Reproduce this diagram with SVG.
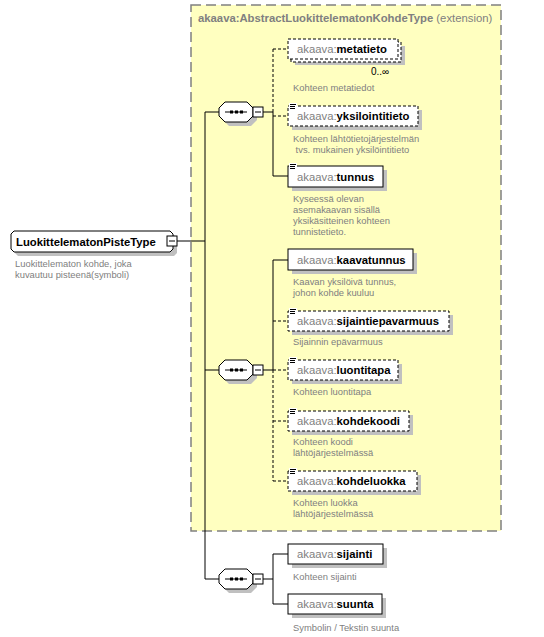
<svg xmlns="http://www.w3.org/2000/svg" width="544" height="637" viewBox="0 0 544 637">
<defs>
<style>
.ext{fill:#ffffc0;stroke:#808080;stroke-width:1.5;stroke-dasharray:10,5}
.title{font-family:"Liberation Sans",Arial,sans-serif;font-size:11.3px;fill:#808080}
.box{fill:#fff;stroke:#000;stroke-width:1}
.opt{fill:#fff;stroke:#000;stroke-width:1;stroke-dasharray:3,2}
.sh{fill:#c0c0c0;stroke:none}
.lbl{font-family:"Liberation Sans",Arial,sans-serif;font-size:11.3px}
.pfx{fill:#808080}
.nm{fill:#000;font-weight:bold}
.desc{font-family:"Liberation Sans",Arial,sans-serif;font-size:9.4px;fill:#808080}
.ln{fill:none;stroke:#000;stroke-width:1}
.dl{fill:none;stroke:#000;stroke-width:1;stroke-dasharray:3,2}
.card{font-family:"Liberation Sans",Arial,sans-serif;font-size:10px;fill:#000}
</style>
<g id="seqshape">
<polygon class="sh" points="10,4 32,4 38,10 38,18 32,24 10,24 4,18 4,10"/>
<polygon class="box" points="6,0 28,0 34,6 34,14 28,20 6,20 0,14 0,6"/>
<line class="ln" x1="6" y1="10" x2="28" y2="10"/>
<rect x="11" y="8.5" width="3" height="3" fill="#000"/>
<rect x="16" y="8.5" width="3" height="3" fill="#000"/>
<rect x="21" y="8.5" width="3" height="3" fill="#000"/>
<rect class="box" x="34" y="5" width="10" height="10"/>
<line class="ln" x1="36" y1="10" x2="42" y2="10"/>
</g>
<g id="doc">
<rect x="0" y="0" width="8" height="7" fill="#fff"/>
<line class="ln" x1="1" y1="1.5" x2="7" y2="1.5"/>
<line class="ln" x1="1" y1="3.5" x2="6" y2="3.5"/>
<line class="ln" x1="1" y1="5.5" x2="6" y2="5.5"/>
</g>
</defs>
<rect width="544" height="637" fill="#fff"/>

<g id="extension">
<rect class="ext" x="191" y="5" width="310" height="526"/>
<text class="title" x="198" y="22"><tspan font-weight="bold">akaava:AbstractLuokittelematonKohdeType</tspan> (extension)</text>
</g>

<g id="connectors">
<line class="ln" x1="177" y1="241" x2="205" y2="241"/>
<line class="ln" x1="205" y1="112" x2="205" y2="579"/>
<line class="ln" x1="205" y1="112" x2="219" y2="112"/>
<line class="ln" x1="205" y1="370" x2="219" y2="370"/>
<line class="ln" x1="205" y1="579" x2="219" y2="579"/>
<line class="ln" x1="263" y1="112" x2="273" y2="112"/>
<line class="dl" x1="273" y1="49" x2="273" y2="112"/>
<line class="ln" x1="273" y1="112" x2="273" y2="176"/>
<line class="dl" x1="273" y1="49" x2="288" y2="49"/>
<line class="dl" x1="273" y1="116" x2="288" y2="116"/>
<line class="ln" x1="273" y1="176" x2="288" y2="176"/>
<line class="ln" x1="263" y1="370" x2="273" y2="370"/>
<line class="ln" x1="273" y1="260" x2="273" y2="370"/>
<line class="dl" x1="273" y1="370" x2="273" y2="481"/>
<line class="ln" x1="273" y1="260" x2="288" y2="260"/>
<line class="dl" x1="273" y1="321" x2="288" y2="321"/>
<line class="dl" x1="273" y1="370" x2="288" y2="370"/>
<line class="dl" x1="273" y1="421" x2="288" y2="421"/>
<line class="dl" x1="273" y1="481" x2="288" y2="481"/>
<line class="ln" x1="263" y1="579" x2="273" y2="579"/>
<line class="ln" x1="273" y1="554" x2="273" y2="604"/>
<line class="ln" x1="273" y1="554" x2="288" y2="554"/>
<line class="ln" x1="273" y1="604" x2="288" y2="604"/>
</g>

<g id="root">
<polygon class="sh" points="18,235 174,235 177,238 177,253 174,256 18,256 15,253 15,238"/>
<polygon class="box" points="14,231 170,231 173,234 173,249 170,252 14,252 11,249 11,234"/>
<text class="lbl nm" x="16" y="246" font-size="12px">LuokittelematonPisteType</text>
<rect class="box" x="167" y="236" width="10" height="10"/>
<line class="ln" x1="169" y1="241" x2="175" y2="241"/>
<text class="desc" x="15" y="267">Luokittelematon kohde, joka</text>
<text class="desc" x="15" y="278">kuvautuu pisteenä(symboli)</text>
</g>

<g id="seq1"><use href="#seqshape" x="219" y="102"/></g>
<g id="seq2"><use href="#seqshape" x="219" y="360"/></g>
<g id="seq3"><use href="#seqshape" x="219" y="569"/></g>

<g id="metatieto">
<rect class="sh" x="295" y="46" width="110" height="19"/>
<rect class="opt" x="291" y="42" width="110" height="20"/>
<rect class="opt" x="288" y="39" width="110" height="20"/>
<text class="lbl" x="297" y="53"><tspan class="pfx">akaava:</tspan><tspan class="nm">metatieto</tspan></text>
<text class="card" x="371" y="75">0..∞</text>
<text class="desc" x="293" y="91">Kohteen metatiedot</text>
</g>

<g id="yksilointitieto">
<rect class="sh" x="292" y="110" width="130" height="20"/>
<rect class="opt" x="288" y="106" width="130" height="20"/>
<use href="#doc" x="289" y="103"/>
<text class="lbl" x="297" y="120"><tspan class="pfx">akaava:</tspan><tspan class="nm">yksilointitieto</tspan></text>
<text class="desc" x="293" y="142">Kohteen lähtötietojärjestelmän</text>
<text class="desc" x="293" y="153" xml:space="preserve"> tvs. mukainen yksilöintitieto</text>
</g>

<g id="tunnus">
<rect class="sh" x="292" y="170" width="95" height="21"/>
<rect class="box" x="288" y="166" width="95" height="21"/>
<use href="#doc" x="289" y="163"/>
<text class="lbl" x="297" y="181"><tspan class="pfx">akaava:</tspan><tspan class="nm">tunnus</tspan></text>
<text class="desc" x="293" y="202">Kyseessä olevan</text>
<text class="desc" x="293" y="213">asemakaavan sisällä</text>
<text class="desc" x="293" y="224">yksikäsitteinen kohteen</text>
<text class="desc" x="293" y="235">tunnistetieto.</text>
</g>

<g id="kaavatunnus">
<rect class="sh" x="292" y="253" width="125" height="21"/>
<rect class="box" x="288" y="249" width="125" height="21"/>
<text class="lbl" x="297" y="264"><tspan class="pfx">akaava:</tspan><tspan class="nm">kaavatunnus</tspan></text>
<text class="desc" x="293" y="285">Kaavan yksilöivä tunnus,</text>
<text class="desc" x="293" y="296">johon kohde kuuluu</text>
</g>

<g id="sijaintiepavarmuus">
<rect class="sh" x="292" y="315" width="161" height="20"/>
<rect class="opt" x="288" y="311" width="161" height="20"/>
<use href="#doc" x="289" y="308"/>
<text class="lbl" x="297" y="325"><tspan class="pfx">akaava:</tspan><tspan class="nm">sijaintiepavarmuus</tspan></text>
<text class="desc" x="293" y="345">Sijainnin epävarmuus</text>
</g>

<g id="luontitapa">
<rect class="sh" x="292" y="364" width="110" height="20"/>
<rect class="opt" x="288" y="360" width="110" height="20"/>
<use href="#doc" x="289" y="357"/>
<text class="lbl" x="297" y="374"><tspan class="pfx">akaava:</tspan><tspan class="nm">luontitapa</tspan></text>
<text class="desc" x="293" y="395">Kohteen luontitapa</text>
</g>

<g id="kohdekoodi">
<rect class="sh" x="292" y="415" width="121" height="20"/>
<rect class="opt" x="288" y="411" width="121" height="20"/>
<use href="#doc" x="289" y="408"/>
<text class="lbl" x="297" y="425"><tspan class="pfx">akaava:</tspan><tspan class="nm">kohdekoodi</tspan></text>
<text class="desc" x="293" y="445">Kohteen koodi</text>
<text class="desc" x="293" y="456">lähtöjärjestelmässä</text>
</g>

<g id="kohdeluokka">
<rect class="sh" x="292" y="475" width="129" height="20"/>
<rect class="opt" x="288" y="471" width="129" height="20"/>
<use href="#doc" x="289" y="468"/>
<text class="lbl" x="297" y="485"><tspan class="pfx">akaava:</tspan><tspan class="nm">kohdeluokka</tspan></text>
<text class="desc" x="293" y="506">Kohteen luokka</text>
<text class="desc" x="293" y="517">lähtöjärjestelmässä</text>
</g>

<g id="sijainti">
<rect class="sh" x="292" y="548" width="95" height="20"/>
<rect class="box" x="288" y="544" width="95" height="20"/>
<text class="lbl" x="297" y="558"><tspan class="pfx">akaava:</tspan><tspan class="nm">sijainti</tspan></text>
<text class="desc" x="293" y="580">Kohteen sijainti</text>
</g>

<g id="suunta">
<rect class="sh" x="292" y="598" width="94" height="20"/>
<rect class="box" x="288" y="594" width="94" height="20"/>
<text class="lbl" x="297" y="608"><tspan class="pfx">akaava:</tspan><tspan class="nm">suunta</tspan></text>
<text class="desc" x="293" y="631">Symbolin / Tekstin suunta</text>
</g>
</svg>
